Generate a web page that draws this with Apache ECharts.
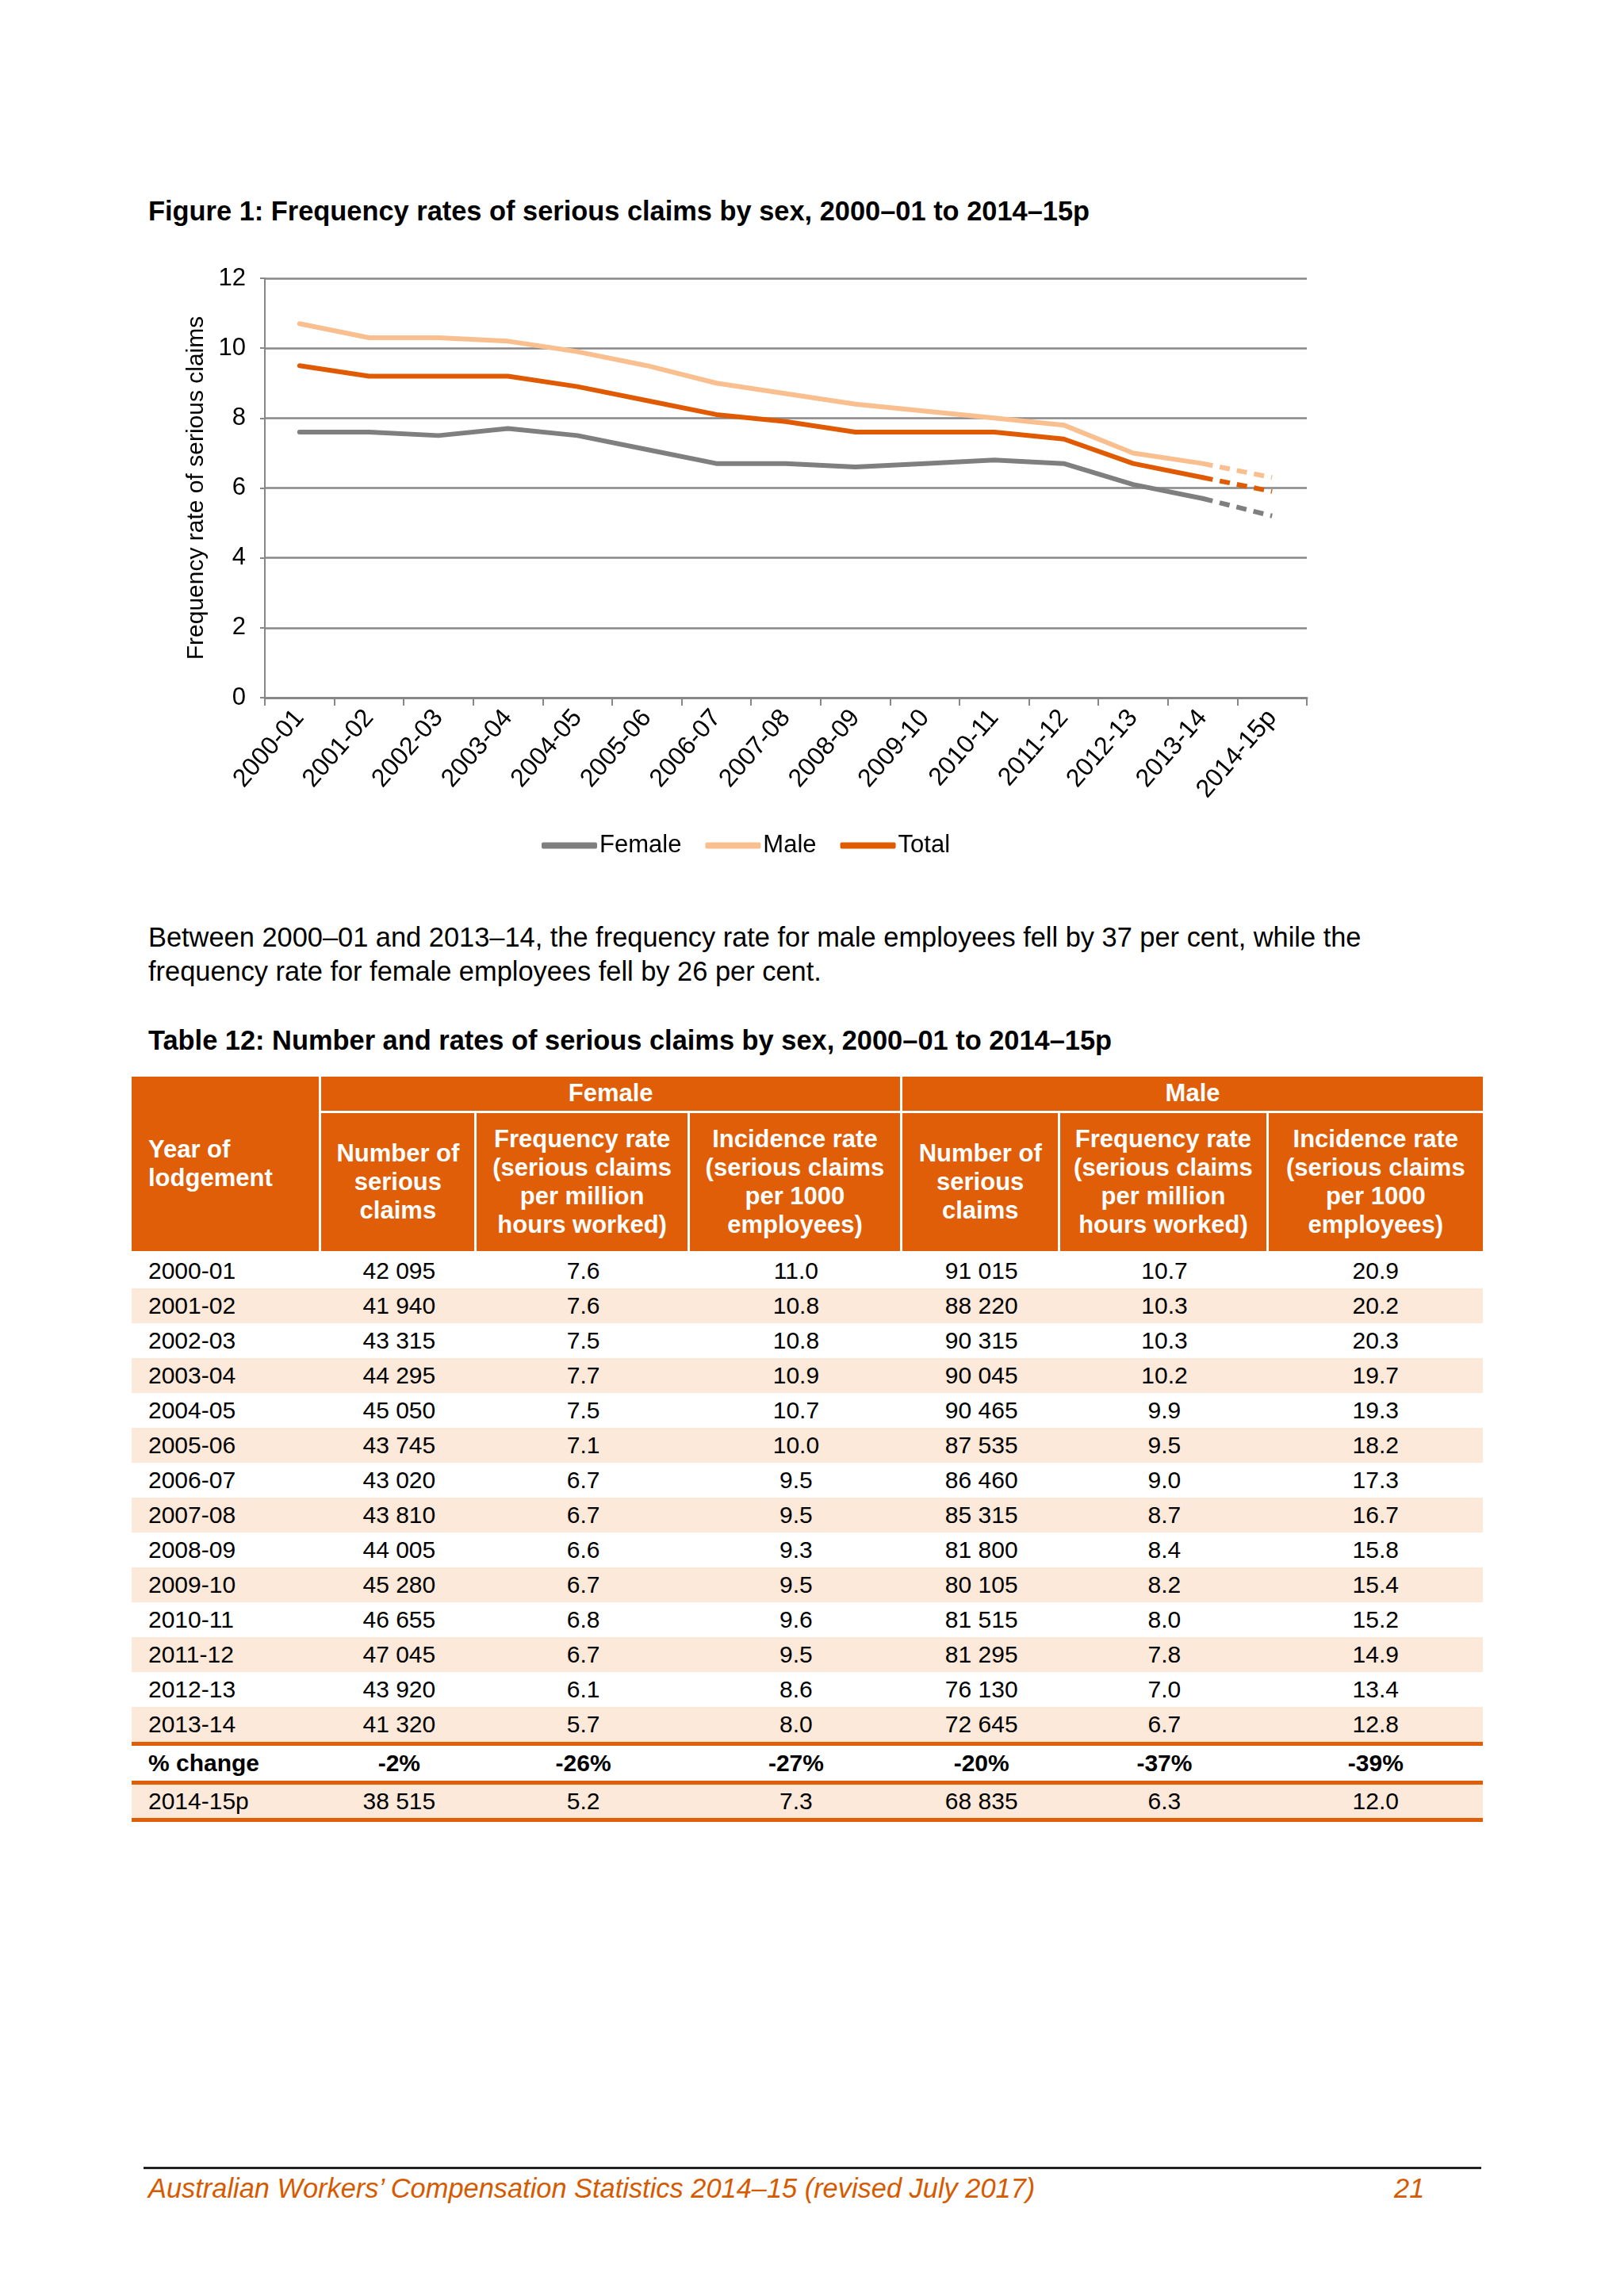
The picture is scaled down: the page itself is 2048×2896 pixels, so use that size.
<!DOCTYPE html>
<html>
<head>
<meta charset="utf-8">
<script src="https://cdn.jsdelivr.net/npm/echarts@6/dist/echarts.min.js"></script>
<style>
  html, body { margin:0; padding:0; background:#fff; }
  body { width:2048px; height:2896px; position:relative; font-family:Arial, "Liberation Sans", Helvetica, sans-serif; color:#000; }
  .abs { position:absolute; }
  .ttl { font-weight:bold; font-size:34.4px; }
  .para { font-size:34.4px; line-height:43px; }
  table { border-collapse:separate; border-spacing:0; table-layout:fixed; font-size:30px; }
  th { background:#E05E08; color:#fff; font-weight:bold; font-size:31px; line-height:36px; padding:0; border-right:3px solid #fff; border-bottom:3px solid #fff; }
  th.last { border-right:none; }
  td { padding:0; text-align:center; height:44px; line-height:44px; }
  td.yr { text-align:left; padding-left:21px; }
  tr.stripe td { background:#FDE9D9; }
  tr.chg td { font-weight:bold; height:44px; line-height:44px; border-top:5px solid #E05E08; border-bottom:5px solid #E05E08; }
  tr.last td { background:#FDE9D9; height:42px; line-height:42px; border-bottom:5px solid #E05E08; }
</style>
</head>
<body>
<div class="abs ttl" style="left:187px; top:247px;">Figure 1: Frequency rates of serious claims by sex, 2000–01 to 2014–15p</div>
<div id="chart" class="abs" style="left:0; top:0; width:2048px; height:1110px;"></div>
<div class="abs para" style="left:187px; top:1161px; width:1800px;">Between 2000–01 and 2013–14, the frequency rate for male employees fell by 37 per cent, while the<br>frequency rate for female employees fell by 26 per cent.</div>
<div class="abs ttl" style="left:187px; top:1293px;">Table 12: Number and rates of serious claims by sex, 2000–01 to 2014–15p</div>
<div id="tbl" class="abs" style="left:166px; top:1358px;"></div>
<div class="abs" style="left:181px; top:2733px; width:1687px; height:3px; background:#222;"></div>
<div class="abs" style="left:187px; top:2741px; font-size:34.4px; font-style:italic; color:#D65A00;">Australian Workers’ Compensation Statistics 2014–15 (revised July 2017)</div>
<div class="abs" style="left:1758px; top:2741px; font-size:34.4px; font-style:italic; color:#D65A00;">21</div>
<script>
// ---- data ----
var years = ['2000-01','2001-02','2002-03','2003-04','2004-05','2005-06','2006-07','2007-08','2008-09','2009-10','2010-11','2011-12','2012-13','2013-14','2014-15p'];
var femaleClaims = ['42 095','41 940','43 315','44 295','45 050','43 745','43 020','43 810','44 005','45 280','46 655','47 045','43 920','41 320','38 515'];
var femaleFreq = [7.6,7.6,7.5,7.7,7.5,7.1,6.7,6.7,6.6,6.7,6.8,6.7,6.1,5.7,5.2];
var femaleInc = ['11.0','10.8','10.8','10.9','10.7','10.0','9.5','9.5','9.3','9.5','9.6','9.5','8.6','8.0','7.3'];
var maleClaims = ['91 015','88 220','90 315','90 045','90 465','87 535','86 460','85 315','81 800','80 105','81 515','81 295','76 130','72 645','68 835'];
var maleFreq = [10.7,10.3,10.3,10.2,9.9,9.5,9.0,8.7,8.4,8.2,8.0,7.8,7.0,6.7,6.3];
var maleInc = ['20.9','20.2','20.3','19.7','19.3','18.2','17.3','16.7','15.8','15.4','15.2','14.9','13.4','12.8','12.0'];
var totalFreq = [9.5,9.2,9.2,9.2,8.9,8.5,8.1,7.9,7.6,7.6,7.6,7.4,6.7,6.3,5.9];
var pctChange = ['-2%','-26%','-27%','-20%','-37%','-39%'];
var yTicks = [0, 2, 4, 6, 8, 10, 12];

// ---- chart ----
function solidPart(a){ return a.map(function(v,i){ return i < a.length-1 ? v : null; }); }
function dashPart(a){ return a.map(function(v,i){ return i >= a.length-2 ? v : null; }); }
var colors = { Female:'#7F7F7F', Male:'#F9BF8F', Total:'#DF5A00' };
var seriesDefs = [['Female', femaleFreq], ['Male', maleFreq], ['Total', totalFreq]];
var series = [];
seriesDefs.forEach(function(d){
  series.push({ name:d[0], type:'line', data:solidPart(d[1]), symbol:'none', connectNulls:false,
    lineStyle:{ color:colors[d[0]], width:6, cap:'round', join:'round' }, itemStyle:{ color:colors[d[0]] }, z:3 });
  series.push({ name:d[0], type:'line', data:dashPart(d[1]), symbol:'none',
    lineStyle:{ color:colors[d[0]], width:6, type:[13,9] }, itemStyle:{ color:colors[d[0]] }, z:3 });
});
var FF = 'Arial, "Liberation Sans", Helvetica, sans-serif';
var chart = echarts.init(document.getElementById('chart'), null, { renderer:'canvas' });
chart.setOption({
  animation:false,
  textStyle:{ fontFamily:FF },
  grid:{ left:334, top:351, width:1314, height:529, containLabel:false },
  legend:{ data:['Female','Male','Total'], top:1046, left:678, icon:'roundRect', itemWidth:70, itemHeight:8, itemGap:30,
    textStyle:{ fontSize:31, color:'#000', fontFamily:FF, padding:[0,0,0,-2] } },
  xAxis:{ type:'category', data:years, boundaryGap:true,
    axisLine:{ lineStyle:{ color:'#878787', width:3 } },
    axisTick:{ show:true, alignWithLabel:false, length:10, lineStyle:{ color:'#878787', width:2 } },
    axisLabel:{ rotate:49, fontSize:32, color:'#000', margin:20, interval:0, fontFamily:FF } },
  yAxis:{ type:'value', min:yTicks[0], max:yTicks[yTicks.length-1], interval:2,
    name:'Frequency rate of serious claims', nameLocation:'middle', nameGap:71, nameRotate:90,
    nameTextStyle:{ fontSize:30, color:'#000', fontFamily:FF },
    axisLine:{ show:true, lineStyle:{ color:'#878787', width:2 } },
    axisTick:{ show:true, length:6, lineStyle:{ color:'#878787', width:2 } },
    axisLabel:{ fontSize:31, color:'#000', margin:24, fontFamily:FF },
    splitLine:{ lineStyle:{ color:'#878787', width:2.5 } } },
  series:series
});

// ---- table ----
var widths = [239,196,268,268,199,262,270];
var h = '<table style="width:1704px"><colgroup>' + widths.map(function(w){ return '<col style="width:'+w+'px">'; }).join('') + '</colgroup>';
h += '<tr><th rowspan="2" style="text-align:left;padding-left:21px;height:220px;border-bottom:3px solid #fff;">Year of<br>lodgement</th>'
   + '<th colspan="3" style="height:42px;">Female</th><th colspan="3" class="last" style="height:42px;">Male</th></tr>';
var sub = ['Number of<br>serious<br>claims','Frequency rate<br>(serious claims<br>per million<br>hours worked)','Incidence rate<br>(serious claims<br>per 1000<br>employees)'];
h += '<tr>' + sub.concat(sub).map(function(s,i){ return '<th'+(i===5?' class="last"':'')+' style="height:171px;">'+s+'</th>'; }).join('') + '</tr>';
function fmt(v){ return (typeof v === 'number') ? v.toFixed(1) : v; }
for (var i = 0; i < years.length - 1; i++) {
  h += '<tr' + (i % 2 === 1 ? ' class="stripe"' : '') + '><td class="yr">' + years[i] + '</td><td>' + femaleClaims[i] + '</td><td>' + fmt(femaleFreq[i]) + '</td><td>' + femaleInc[i] + '</td><td>' + maleClaims[i] + '</td><td>' + fmt(maleFreq[i]) + '</td><td>' + maleInc[i] + '</td></tr>';
}
h += '<tr class="chg"><td class="yr">% change</td>' + pctChange.map(function(p){ return '<td>'+p+'</td>'; }).join('') + '</tr>';
var L = years.length - 1;
h += '<tr class="last"><td class="yr">' + years[L] + '</td><td>' + femaleClaims[L] + '</td><td>' + fmt(femaleFreq[L]) + '</td><td>' + femaleInc[L] + '</td><td>' + maleClaims[L] + '</td><td>' + fmt(maleFreq[L]) + '</td><td>' + maleInc[L] + '</td></tr>';
h += '</table>';
document.getElementById('tbl').innerHTML = h;
</script>
</body>
</html>
